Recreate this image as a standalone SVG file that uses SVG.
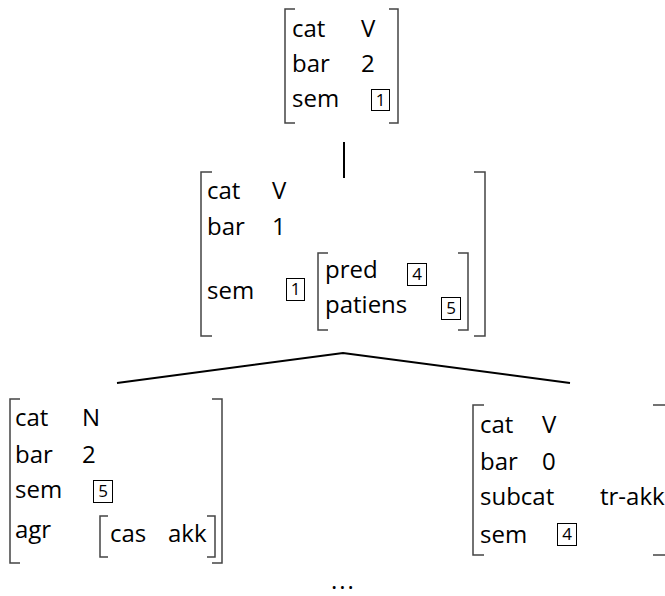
<svg xmlns="http://www.w3.org/2000/svg" width="665" height="596" viewBox="0 0 665 596">
  <style>
    text { font-family: "Open Sans", "Liberation Sans", sans-serif; font-size: 24px; fill: #000; }
    text.tag { font-size: 17px; text-anchor: middle; }
    .brk { fill: none; stroke: #444; stroke-width: 1.5; }
    .tagbox { fill: none; stroke: #000; stroke-width: 1; }
    .edge { fill: none; stroke: #000; stroke-width: 2; }
  </style>
  <rect width="665" height="596" fill="#fff"/>

  <!-- tree edges -->
  <g id="connectors">
    <line class="edge" x1="344" y1="142" x2="344" y2="178"/>
    <polyline class="edge" points="117,383 343,353 570,383"/>
  </g>

  <!-- root: V, bar 2 -->
  <g id="node-root">
    <path class="brk" d="M295,9 H285 V123 H295"/>
    <path class="brk" d="M389,9 H398 V123 H389"/>
    <text x="292" y="37">cat</text><text x="361" y="37">V</text>
    <text x="292" y="72">bar</text><text x="361" y="72">2</text>
    <text x="292" y="107">sem</text>
    <rect class="tagbox" x="371.5" y="89.5" width="18" height="21"/>
    <text class="tag" x="380.5" y="106">1</text>
  </g>

  <!-- V, bar 1 -->
  <g id="node-vbar">
    <path class="brk" d="M212,172 H201 V336 H212"/>
    <path class="brk" d="M474,172 H485 V336 H474"/>
    <text x="207" y="199">cat</text><text x="272" y="199">V</text>
    <text x="207" y="235">bar</text><text x="272" y="235">1</text>
    <text x="207" y="299">sem</text>
    <rect class="tagbox" x="286.5" y="278.5" width="18" height="22"/>
    <text class="tag" x="295.5" y="295">1</text>
    <path class="brk" d="M328,253 H318 V330 H328"/>
    <path class="brk" d="M458,253 H468 V330 H458"/>
    <text x="325" y="278">pred</text>
    <rect class="tagbox" x="407.5" y="263.5" width="19" height="22"/>
    <text class="tag" x="417" y="280">4</text>
    <text x="325" y="313">patiens</text>
    <rect class="tagbox" x="441.5" y="297.5" width="19" height="22"/>
    <text class="tag" x="451" y="314">5</text>
  </g>

  <!-- N, bar 2 -->
  <g id="node-n">
    <path class="brk" d="M20,399 H10 V563 H20"/>
    <path class="brk" d="M212,399 H222 V563 H212"/>
    <text x="15" y="426">cat</text><text x="82" y="426">N</text>
    <text x="15" y="463">bar</text><text x="82" y="463">2</text>
    <text x="15" y="498">sem</text>
    <rect class="tagbox" x="93.5" y="480.5" width="19" height="22"/>
    <text class="tag" x="103" y="497">5</text>
    <text x="15" y="538">agr</text>
    <path class="brk" d="M108,516 H100 V557 H108"/>
    <path class="brk" d="M207,516 H215 V557 H207"/>
    <text x="110" y="542">cas</text><text x="168" y="542">akk</text>
  </g>

  <!-- V, bar 0 -->
  <g id="node-v0">
    <path class="brk" d="M484,405 H473 V555 H484"/>
    <path class="brk" d="M653,405 H667 V555 H653"/>
    <text x="480" y="433">cat</text><text x="542" y="433">V</text>
    <text x="480" y="470">bar</text><text x="542" y="470">0</text>
    <text x="480" y="505">subcat</text><text x="600" y="505">tr-akk</text>
    <text x="480" y="543">sem</text>
    <rect class="tagbox" x="557.5" y="523.5" width="19" height="22"/>
    <text class="tag" x="567" y="540">4</text>
  </g>

  <text x="331" y="589" letter-spacing="2">...</text>
</svg>
